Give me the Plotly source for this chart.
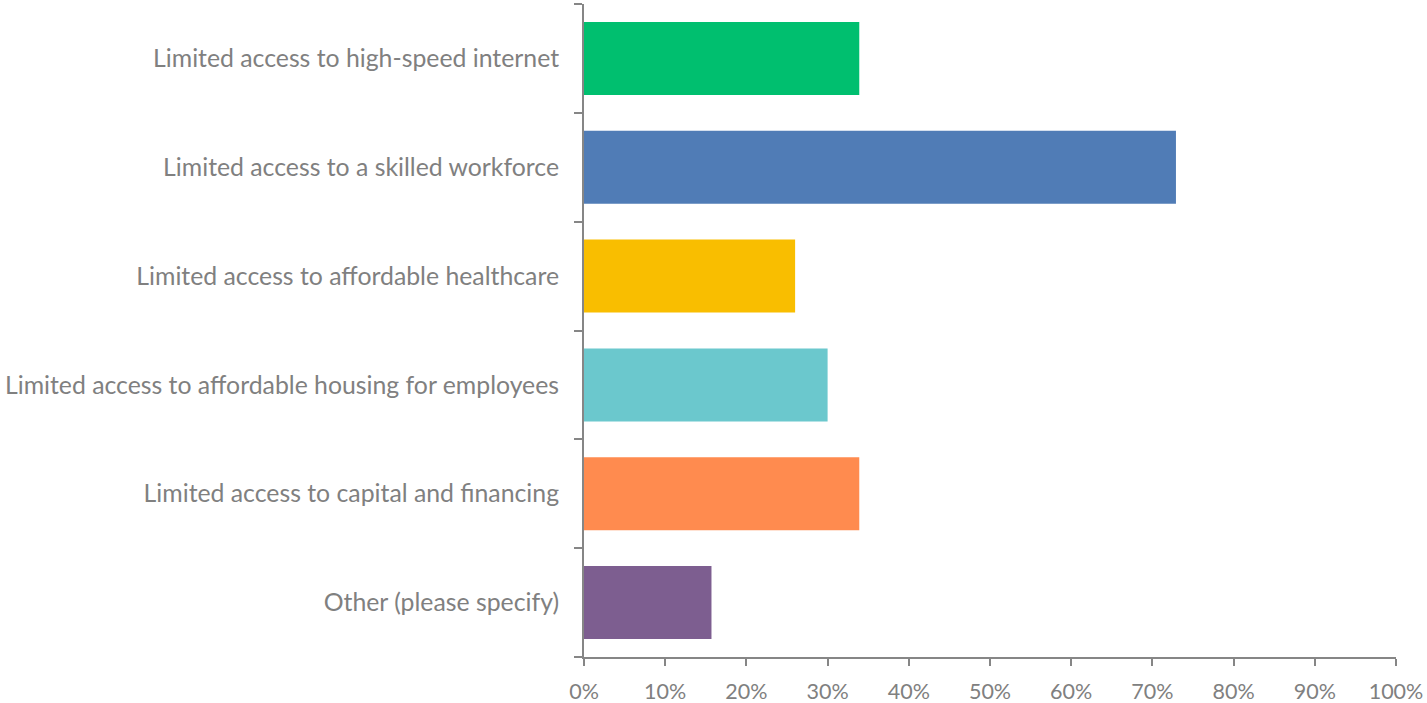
import plotly.graph_objects as go

categories = [
    "Limited access to high-speed internet",
    "Limited access to a skilled workforce",
    "Limited access to affordable healthcare",
    "Limited access to affordable housing for employees",
    "Limited access to capital and financing",
    "Other (please specify)",
]
values = [33.9, 72.9, 26.0, 30.0, 33.9, 15.7]
colors = ["#00BF6F", "#507CB6", "#F9BE00", "#6BC8CD", "#FF8B4F", "#7D5E90"]
x_ticks = list(range(0, 101, 10))
x_tick_labels = [f"{t}%" for t in x_ticks]

fig = go.Figure(go.Bar(
    x=values, y=categories, orientation="h",
    marker=dict(color=colors, line=dict(width=0)),
    hoverinfo="x+y",
))

grey = "#808080"
axis_grey = "#868686"
fig.update_layout(
    width=1427, height=703,
    margin=dict(l=584, r=31, t=4, b=46, autoexpand=False),
    paper_bgcolor="white", plot_bgcolor="white",
    bargap=0.33,
    showlegend=False,
    font=dict(family="Lato, Open Sans, sans-serif", size=24.8, color=grey),
    xaxis=dict(
        range=[0, 100], tickvals=x_ticks, ticktext=x_tick_labels,
        showgrid=False, zeroline=False, showline=True, linecolor=axis_grey, linewidth=2,
        ticks="outside", ticklen=7, tickwidth=2, tickcolor=axis_grey,
        tickfont=dict(size=21.5, color=grey), ticklabelstandoff=7,
        automargin=False,
    ),
    yaxis=dict(
        categoryorder="array", categoryarray=categories[::-1],
        showgrid=False, zeroline=False, showline=True, linecolor=axis_grey, linewidth=2,
        ticks="outside", ticklen=8, tickwidth=2, tickcolor=axis_grey,
        tickson="boundaries",
        tickfont=dict(size=24.8, color=grey), ticklabelstandoff=18,
        automargin=False,
    ),
)

fig.write_html(
    "out.html",
    config={"displayModeBar": False},
    post_script="document.body.style.margin='0';document.body.style.overflow='hidden';",
)
